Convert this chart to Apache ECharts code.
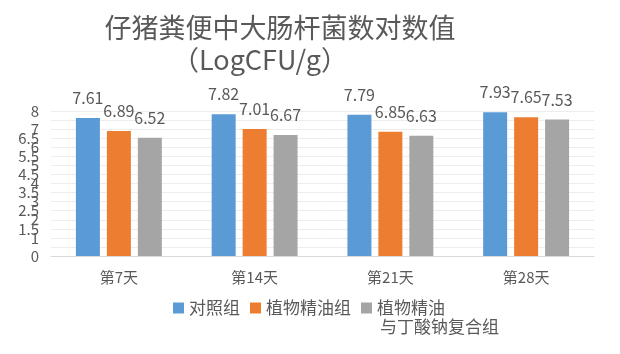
<!DOCTYPE html>
<html>
<head>
<meta charset="utf-8">
<script src="https://cdn.jsdelivr.net/npm/echarts@6/dist/echarts.min.js"></script>
<style>
  html, body { margin: 0; padding: 0; background: #fff; }
  #chart { width: 620px; height: 354px; }
</style>
</head>
<body>
<div id="chart"></div>
<script>
const categories = ['第7天', '第14天', '第21天', '第28天']
const seriesNames = ['对照组', '植物精油组', '植物精油与丁酸钠复合组']
const controlValues = [7.61, 7.82, 7.79, 7.93]
const oilValues = [6.89, 7.01, 6.85, 7.65]
const comboValues = [6.52, 6.67, 6.63, 7.53]
const colors = ['#5B9BD5', '#ED7D31', '#A5A5A5']

const font = '"Noto Sans CJK SC", "Noto Sans", sans-serif'
const textGray = '#595959'

const chart = echarts.init(document.getElementById('chart'))

const makeSeries = (name, data, i) => ({
  name,
  type: 'bar',
  data,
  barWidth: 24,
  barGap: '29%',
  itemStyle: { color: colors[i] },
  label: {
    show: true,
    position: 'top',
    distance: 12,
    color: textGray,
    fontSize: 16,
    fontFamily: font
  }
})

chart.setOption({
  animation: false,
  title: [
    {
      text: '仔猪粪便中大肠杆菌数对数值',
      left: 275,
      top: 9,
      textAlign: 'center',
      textStyle: { color: textGray, fontSize: 27, fontWeight: 'normal', fontFamily: font }
    },
    {
      text: '（LogCFU/g）',
      left: 255,
      top: 41,
      textAlign: 'center',
      textStyle: { color: textGray, fontSize: 27, fontWeight: 'normal', fontFamily: font }
    }
  ],
  grid: { left: 51, right: 26, top: 111, bottom: 98, containLabel: false },
  legend: {
    left: 168,
    top: 292,
    itemWidth: 11,
    itemHeight: 11,
    itemGap: 10,
    icon: 'rect',
    textStyle: { color: textGray, fontSize: 17, fontFamily: font, lineHeight: 22 },
    // the long name wraps: first half next to the marker, rest drawn below
    formatter: name => name === seriesNames[2] ? '植物精油' : name,
    data: seriesNames
  },
  graphic: [
    {
      type: 'text',
      left: 380,
      top: 318,
      style: { text: '与丁酸钠复合组', fill: textGray, fontSize: 17, fontFamily: font }
    }
  ],
  xAxis: {
    type: 'category',
    data: categories,
    axisTick: { show: false },
    axisLine: { lineStyle: { color: '#D9D9D9' } },
    axisLabel: { color: textGray, fontSize: 15, fontFamily: font, margin: 14 }
  },
  yAxis: {
    type: 'value',
    min: 0,
    max: 8,
    interval: 0.5,
    axisLine: { show: false },
    axisTick: { show: false },
    splitLine: { lineStyle: { color: '#EDEDED' } },
    axisLabel: {
      color: textGray,
      fontSize: 15,
      fontFamily: font,
      margin: 12,
      hideOverlap: false,
      showMinLabel: true,
      showMaxLabel: true,
      formatter: v => String(v)
    }
  },
  series: [
    makeSeries(seriesNames[0], controlValues, 0),
    makeSeries(seriesNames[1], oilValues, 1),
    makeSeries(seriesNames[2], comboValues, 2)
  ]
})
</script>
</body>
</html>
